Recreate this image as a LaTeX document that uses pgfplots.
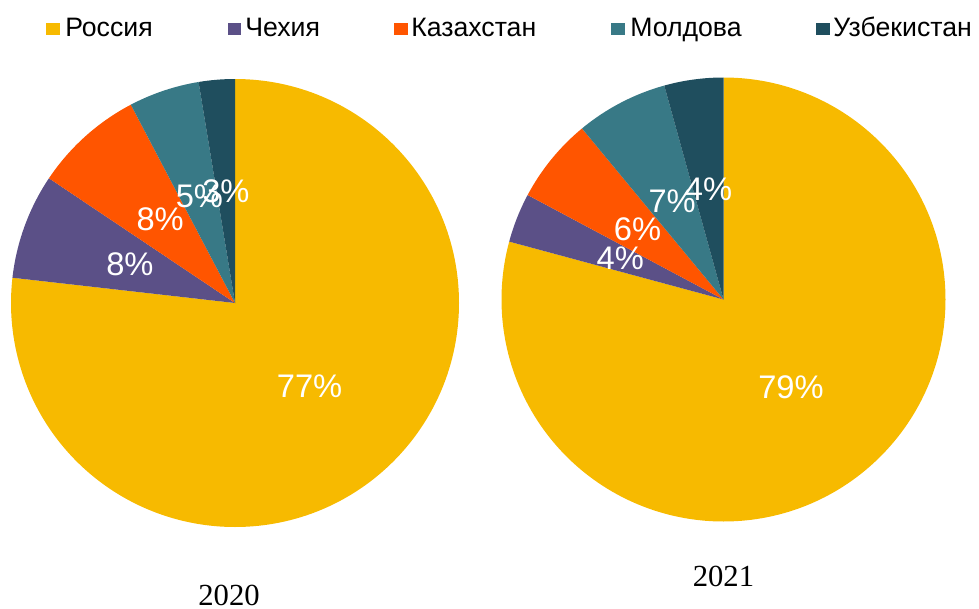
\documentclass[border=0pt]{standalone}
\usepackage{pgfplots}
\pgfplotsset{compat=1.18}
\usepackage{fontspec}
\setmainfont{Liberation Sans}
\newfontfamily\timesfont{Liberation Serif}
\definecolor{cRus}{HTML}{F7BA00}
\definecolor{cCze}{HTML}{5B5087}
\definecolor{cKaz}{HTML}{FF5500}
\definecolor{cMol}{HTML}{387986}
\definecolor{cUzb}{HTML}{1F4E5E}

% #1 radius, #2 list value/colour/label (values in percent, clockwise from 12 o'clock)
\newcommand{\piechart}[2]{%
  \xdef\cumul{90}%
  \foreach \v/\c/\l in {#2} {%
    \pgfmathsetmacro\endang{\cumul-3.6*\v}%
    \fill[\c] (axis cs:0,0) -- (axis cs:{cos(\cumul)},{sin(\cumul)})
      arc[start angle=\cumul, end angle=\endang, radius=#1] -- cycle;
    \xdef\cumul{\endang}%
  }%
  \xdef\cumul{90}%
  \foreach \v/\c/\l in {#2} {%
    \pgfmathsetmacro\endang{\cumul-3.6*\v}%
    \pgfmathsetmacro\midang{(\cumul+\endang)/2}%
    \node[text=white, inner sep=0pt, font=\fontsize{24.5}{24.5}\selectfont]
      at (axis cs:{0.5*cos(\midang)},{0.5*sin(\midang)}) {\l\%};
    \xdef\cumul{\endang}%
  }%
}
\newcommand{\legentry}[5]{% colour, x1, x2, textx, text
  \fill[#1] (#2,429.75pt) rectangle (#3,439pt);
  \node[anchor=base west, inner sep=0pt, font=\fontsize{20}{20}\selectfont] at (#4,428.5pt) {#5};
}

\begin{document}
\begin{tikzpicture}
\useasboundingbox (0,0) rectangle (734.25pt,456pt);

\begin{axis}[at={(176.25pt,228.75pt)}, anchor=origin, x=168pt, y=168pt,
  xmin=-1, xmax=1, ymin=-1, ymax=1, hide axis, clip=false]
\addplot[draw=none] coordinates {(0,0)};
\pgfplotsextra{\piechart{168pt}{76.8/cRus/77, 7.6/cCze/8, 7.9/cKaz/8, 5.1/cMol/5, 2.6/cUzb/3}}
\end{axis}

\begin{axis}[at={(542.625pt,231.375pt)}, anchor=origin, x=166.5pt, y=166.5pt,
  xmin=-1, xmax=1, ymin=-1, ymax=1, hide axis, clip=false]
\addplot[draw=none] coordinates {(0,0)};
\pgfplotsextra{\piechart{166.5pt}{79.2/cRus/79, 3.6/cCze/4, 6.2/cKaz/6, 6.7/cMol/7, 4.3/cUzb/4}}
\end{axis}

\legentry{cRus}{34.5pt}{45pt}{48.75pt}{Россия}
\legentry{cCze}{171pt}{180.75pt}{183.75pt}{Чехия}
\legentry{cKaz}{295.5pt}{306pt}{308.25pt}{Казахстан}
\legentry{cMol}{458.25pt}{468.75pt}{472.5pt}{Молдова}
\legentry{cUzb}{612pt}{622.5pt}{624.75pt}{Узбекистан}

\node[anchor=base, inner sep=0pt, font=\timesfont\fontsize{23}{23}\selectfont] at (171.75pt,1.7pt) {2020};
\node[anchor=base, inner sep=0pt, font=\timesfont\fontsize{23}{23}\selectfont] at (542.6pt,16pt) {2021};
\end{tikzpicture}
\end{document}
